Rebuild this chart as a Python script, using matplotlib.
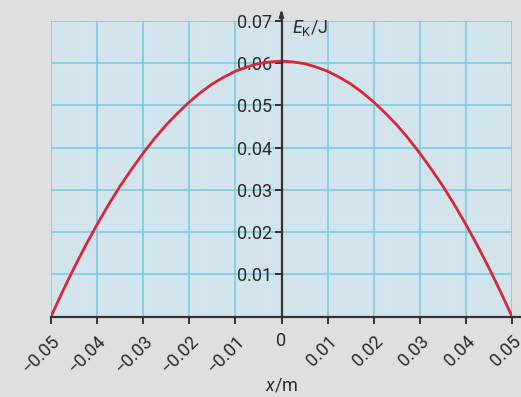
import matplotlib.pyplot as plt
import numpy as np

plt.rcParams['font.family'] = ['Roboto', 'DejaVu Sans']
plt.rcParams['mathtext.fontset'] = 'custom'
plt.rcParams['mathtext.rm'] = 'Roboto'
plt.rcParams['mathtext.it'] = 'Roboto:italic'

# kinetic energy, every 0.0025 m
x_m = [-0.05, -0.0475, -0.045, -0.0425, -0.04, -0.0375, -0.035, -0.0325, -0.03,
       -0.0275, -0.025, -0.0225, -0.02, -0.0175, -0.015, -0.0125, -0.01, -0.0075,
       -0.005, -0.0025, 0.0, 0.0025, 0.005, 0.0075, 0.01, 0.0125, 0.015, 0.0175,
       0.02, 0.0225, 0.025, 0.0275, 0.03, 0.0325, 0.035, 0.0375, 0.04, 0.0425,
       0.045, 0.0475, 0.05]
ek_j = [0.0, 0.0059, 0.0115, 0.0168, 0.0218, 0.0265, 0.0309, 0.0349, 0.0387,
        0.0422, 0.0454, 0.0482, 0.0508, 0.0531, 0.0551, 0.0567, 0.0581, 0.0591,
        0.0599, 0.0603, 0.0605, 0.0603, 0.0599, 0.0591, 0.0581, 0.0567, 0.0551,
        0.0531, 0.0508, 0.0482, 0.0454, 0.0422, 0.0387, 0.0349, 0.0309, 0.0265,
        0.0218, 0.0168, 0.0115, 0.0059, 0.0]

x_ticks = [-0.05, -0.04, -0.03, -0.02, -0.01, 0.0, 0.01, 0.02, 0.03, 0.04, 0.05]
x_tick_labels = ['\u22120.05', '\u22120.04', '\u22120.03', '\u22120.02', '\u22120.01',
                 '0', '0.01', '0.02', '0.03', '0.04', '0.05']
y_ticks = [0.01, 0.02, 0.03, 0.04, 0.05, 0.06, 0.07]
y_tick_labels = ['0.01', '0.02', '0.03', '0.04', '0.05', '0.06', '0.07']

bg = '#dce0e3'
axis_col = '#333333'
text_col = '#2a2a2a'

fig = plt.figure(figsize=(5.21, 3.97), dpi=100, facecolor=bg)
ax = fig.add_axes([51 / 521, 80.5 / 397, 461 / 521, 295.5 / 397])
ax.set_facecolor('#d4e4ec')
ax.set_xlim(-0.05, 0.05)
ax.set_ylim(0, 0.07)

# grid: very faint minor lines, stronger major lines
for xv in np.arange(-0.05, 0.0501, 0.002):
    ax.axvline(xv, color='#cae5ef', lw=0.5, zorder=1)
for yv in np.arange(0, 0.0701, 0.002):
    ax.axhline(yv, color='#cae5ef', lw=0.5, zorder=1)
for xv in x_ticks:
    ax.axvline(xv, color='#74c9e2', lw=1.1, zorder=1.5)
for yv in [0.0] + y_ticks:
    ax.axhline(yv, color='#74c9e2', lw=1.1, zorder=1.5)

ax.plot(x_m, ek_j, color='#d8263a', lw=2.0, zorder=3, solid_capstyle='round')

for s in ['top', 'right']:
    ax.spines[s].set_visible(False)
ax.spines['left'].set_position(('data', 0))
for s in ['left', 'bottom']:
    ax.spines[s].set_color(axis_col)
    ax.spines[s].set_linewidth(1.6)
    ax.spines[s].set_zorder(4)

# extend the axes lines past the grid, with an arrow on the y axis
ax.plot([0.05, 0.052], [0, 0], color=axis_col, lw=1.6, clip_on=False, zorder=4)
ax.annotate('', xy=(0, 0.0736), xytext=(0, 0.0695), xycoords='data',
            arrowprops=dict(arrowstyle='-|>,head_length=0.4,head_width=0.12',
                            color=axis_col, lw=1.6), annotation_clip=False)

ax.set_yticks(y_ticks)
ax.set_yticklabels(y_tick_labels)
ax.set_xticks(x_ticks)
ax.set_xticklabels(x_tick_labels)
ax.tick_params(axis='both', colors=axis_col, width=1.4, length=5, labelsize=13,
               labelcolor=text_col)
ax.tick_params(axis='y', pad=2)
ax.tick_params(axis='x', pad=6)
for lab, xv in zip(ax.get_xticklabels(), x_ticks):
    if xv != 0:
        lab.set_rotation(45)
        lab.set_ha('right')
        lab.set_va('top')
        lab.set_rotation_mode('anchor')

ax.text(0.0022, 0.0683, r'$E_\mathrm{K}$/J', fontsize=13, color=text_col,
        ha='left', va='center')
fig.text(282 / 521, 1 - 385 / 397, r'$x$/m', fontsize=13, color=text_col,
         ha='center', va='center')

fig.savefig('out.png', dpi=100, facecolor=bg)
